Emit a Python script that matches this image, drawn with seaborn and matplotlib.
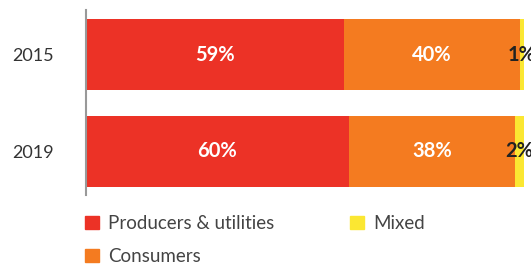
import numpy as np
import pandas as pd
import matplotlib
matplotlib.use("Agg")
import matplotlib.pyplot as plt
import matplotlib.patches as mpatches
import seaborn as sns

years = ["2015", "2019"]
segments = ["Producers & utilities", "Consumers", "Mixed"]
producers = [59, 60]
consumers = [40, 38]
mixed = [1, 2]

colors = {"Producers & utilities": "#ec3226", "Consumers": "#f47b20", "Mixed": "#fbe732"}
label_colors = {"Producers & utilities": "white", "Consumers": "white", "Mixed": "#222222"}

sns.set_theme(style="white")
plt.rcParams["font.family"] = ["Lato", "DejaVu Sans"]

df = pd.DataFrame({"year": years, "Producers & utilities": producers,
                   "Consumers": consumers, "Mixed": mixed})
# cumulative ends for the stacked look
cum = df[segments].cumsum(axis=1)

fig = plt.figure(figsize=(5.31, 2.65), dpi=100)
ax = fig.add_axes([86 / 531, 1 - 195 / 265, 438 / 531, 185 / 265])

# draw the longest first so shorter ones sit on top
for seg in reversed(segments):
    sns.barplot(x=cum[seg], y=df["year"], orient="h", color=colors[seg],
                width=0.733, saturation=1, linewidth=0, ax=ax)

for i in range(len(years)):
    left = 0
    for seg in segments:
        v = df[seg][i]
        ax.text(left + v / 2, i, f"{v}%", ha="center", va="center",
                color=label_colors[seg], fontsize=14.5, fontweight="bold",
                clip_on=False)
        left += v

ax.set_xlim(0, 100)
ax.set_ylim(1.454, -0.463)
ax.set_xlabel("")
ax.set_ylabel("")
ax.set_xticks([])
for s in ["top", "right", "bottom"]:
    ax.spines[s].set_visible(False)
ax.spines["left"].set_color("#999999")
ax.spines["left"].set_linewidth(1.5)
ax.tick_params(axis="y", length=0, pad=23.5, labelsize=13, labelcolor="#333333")

handles = [mpatches.Patch(color=colors[s], label=s) for s in segments]
fig.legend(handles=handles, ncol=2, loc="upper left",
           bbox_to_anchor=(85 / 531, 1 - 215 / 265), frameon=False,
           prop={"size": 13.5}, labelcolor="#444444",
           handlelength=0.75, handleheight=0.75, handletextpad=0.5,
           columnspacing=4.0, labelspacing=0.85, borderpad=0, borderaxespad=0)

plt.savefig("out.png", dpi=100)
